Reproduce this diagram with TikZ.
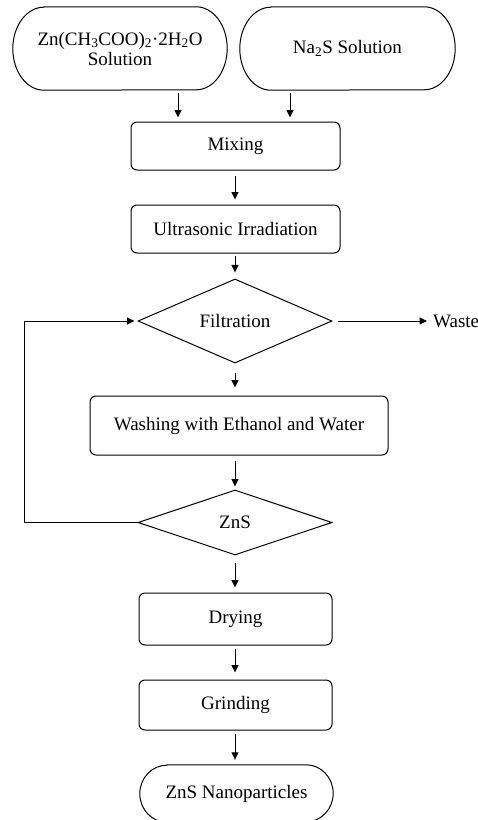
\documentclass[tikz,border=0pt]{standalone}
\usepackage{fontspec}
\setmainfont{Liberation Serif}
\usetikzlibrary{shapes.geometric,arrows.meta,calc}
\newcommand\myterm[3]{%
  \draw[line width=1pt] ([xshift=#2pt]#1.north west) -- ([xshift=-#2pt]#1.north east)
    arc[start angle=-90,end angle=90,x radius=#2,y radius=#3]
    -- ([xshift=#2pt]#1.south west)
    arc[start angle=90,end angle=270,x radius=#2,y radius=#3] -- cycle;}
\begin{document}
\begin{tikzpicture}[x=1pt,y=-1pt,
  every node/.style={font=\fontsize{19}{20}\selectfont, inner sep=0pt, text=black},
  proc/.style={draw, line width=1pt, rounded corners=6pt},
  term/.style={rectangle},
  decis/.style={draw, line width=1pt, diamond, minimum width=194pt, minimum height=66pt},
  arr/.style={line width=1pt, -{Triangle[length=7.5pt,width=7pt]}}]
\useasboundingbox (0,0) rectangle (478,820);
\clip (0,0) rectangle (478,820);

\node[term, minimum width=214pt, minimum height=83pt, align=center] (zn) at (120,48.5)
  {Zn(CH\textsubscript{3}COO)\textsubscript{2}·2H\textsubscript{2}O\\Solution};
\node[term, minimum width=215pt, minimum height=83pt] (na) at (347.5,48.5)
  {Na\textsubscript{2}S Solution};
\myterm{zn}{31}{41.5}
\myterm{na}{31}{41.5}
\node[proc, minimum width=209pt, minimum height=48pt] (mix) at (235.5,146) {Mixing};
\node[proc, minimum width=209pt, minimum height=48pt] (ultra) at (235.5,229) {Ultrasonic Irradiation};
\node[decis] (filt) at (235,321) {Filtration};
\node[anchor=west] (waste) at (433,321) {Waste};
\node[proc, minimum width=298pt, minimum height=59pt] (wash) at (239,425.5) {Washing with Ethanol and Water};
\node[decis, minimum height=65pt] (zns) at (235,522.5) {ZnS};
\node[proc, minimum width=193pt, minimum height=52pt] (dry) at (235.5,619) {Drying};
\node[proc, minimum width=193pt, minimum height=50pt] (grind) at (235.5,705) {Grinding};
\node[term, minimum width=193pt, minimum height=57pt] (nano) at (236.5,793.5) {ZnS Nanoparticles};
\myterm{nano}{27}{28.5}

\coordinate (c1) at (178,0);
\coordinate (c2) at (290,0);
\coordinate (lx) at (24,0);

\draw[arr, shorten <=3pt, shorten >=4pt] (zn.south -| c1) -- (mix.north -| c1);
\draw[arr, shorten <=3pt, shorten >=4pt] (na.south -| c2) -- (mix.north -| c2);
\draw[arr, shorten <=5pt, shorten >=5pt] (mix.south -| filt) -- (ultra.north -| filt);
\draw[arr, shorten <=2pt, shorten >=6pt] (ultra.south -| filt) -- (filt.north);
\draw[arr, shorten <=9pt, shorten >=8pt] (filt.south) -- (wash.north -| filt);
\draw[arr, shorten <=5pt, shorten >=3pt] (wash.south -| zns) -- (zns.north);
\draw[arr, shorten <=7pt, shorten >=5pt] (zns.south) -- (dry.north -| zns);
\draw[arr, shorten <=3pt, shorten >=7pt] (dry.south -| zns) -- (grind.north -| zns);
\draw[arr, shorten <=3pt, shorten >=5pt] (grind.south -| zns) -- (nano.north -| zns);
\draw[arr, shorten <=5pt, shorten >=6pt] (filt.east) -- (waste.west);
\draw[arr, shorten >=3pt] (zns.west) -- (zns.west -| lx) |- (filt.west);
\end{tikzpicture}
\end{document}
